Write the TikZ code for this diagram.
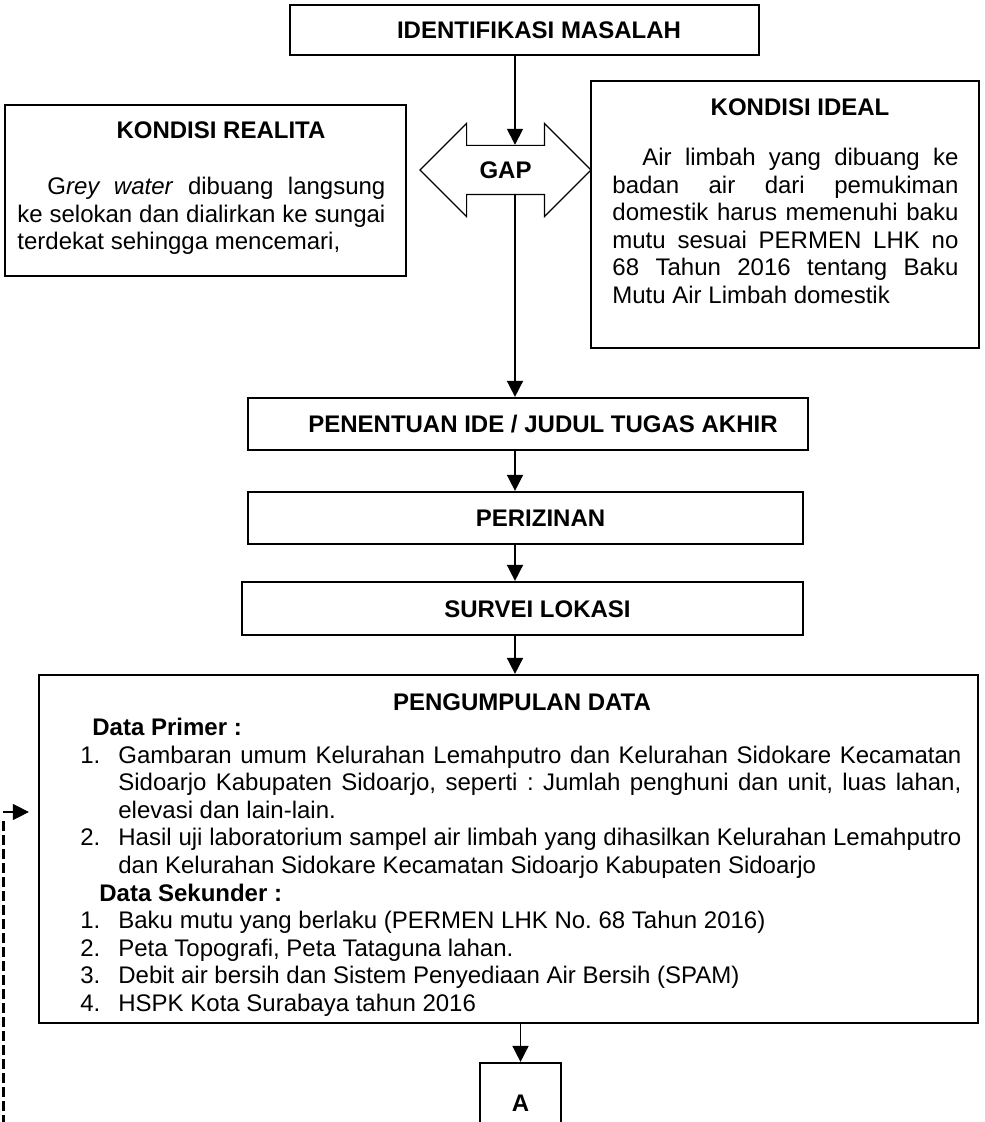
\documentclass[tikz,border=0pt]{standalone}
\usepackage{fontspec}
\setmainfont{Liberation Sans}
\usetikzlibrary{arrows.meta, shapes.arrows}

\begin{document}
\begin{tikzpicture}[
    x=0.5pt, y=-0.5pt,
    stage/.style={draw, line width=1.1pt, font=\fontsize{12}{13.8}\selectfont\bfseries, text height=8.6pt, text depth=0pt, inner sep=0pt},
    panel/.style={draw, line width=0.6pt, inner sep=0pt},
    head/.style={font=\fontsize{12}{13.8}\selectfont\bfseries, inner sep=0pt, anchor=base},
    para/.style={font=\fontsize{12}{13.8}\selectfont\frenchspacing, inner sep=0pt, anchor=north west, align=justify},
    gaparrow/.style={double arrow, draw, line width=0.6pt, font=\fontsize{12}{13.8}\selectfont\bfseries, text height=9pt, text depth=0pt, inner xsep=0pt, inner ysep=7.5pt, minimum height=85.5pt, double arrow head extend=11pt, double arrow tip angle=90},
    arr/.style={-{Triangle[length=8pt, width=8pt]}, line width=0.8pt},
    loopdash/.style={line width=1.5pt, dash pattern=on 5pt off 2pt}
]
\useasboundingbox (0,0) rectangle (984,1122);
\coordinate (spine) at (515,0);

\node[stage, minimum width=234.5pt, minimum height=25pt] (ident) at (524.5,30) {\hspace*{14.5pt}IDENTIFIKASI MASALAH};
\node[gaparrow] (gap) at (505.5,170) {GAP};

% kondisi realita / ideal
\node[panel, minimum width=200.5pt, minimum height=85.5pt] (realita) at (205.5,190.5) {};
\node[head] (realitaT) at (221,138.6) {KONDISI REALITA};
\node[para, text width=184pt] (realitaB) at (17,174.7) {\noindent\strut\hspace*{15pt}G\textit{rey water} dibuang langsung\linebreak ke selokan dan dialirkan ke sungai\linebreak terdekat sehingga mencemari,};

\node[panel, minimum width=194pt, minimum height=133.5pt] (ideal) at (785,214.5) {};
\node[head] (idealT) at (800,115.6) {KONDISI IDEAL};
\node[para, text width=173pt] (idealB) at (612,145.7) {\noindent\strut\hspace*{15pt}Air limbah yang dibuang ke\linebreak badan air dari pemukiman\linebreak domestik harus memenuhi baku\linebreak mutu sesuai PERMEN LHK no\linebreak 68 Tahun 2016 tentang Baku\linebreak Mutu Air Limbah domestik};

\node[stage, minimum width=280pt, minimum height=26pt] (judul) at (528,424) {\hspace*{15pt}PENENTUAN IDE / JUDUL TUGAS AKHIR};
\node[stage, minimum width=277.5pt, minimum height=26pt] (izin) at (525.5,518) {\hspace*{15pt}PERIZINAN};
\node[stage, minimum width=280.5pt, minimum height=26.5pt] (survei) at (522.5,608.5) {\hspace*{15pt}SURVEI LOKASI};

% pengumpulan data
\node[panel, line width=1.1pt, minimum width=469.5pt, minimum height=174pt] (data) at (508.5,849) {};
\node[head] (dataT) at (522,710.6) {PENGUMPULAN DATA};
\node[para, text width=440.5pt] (dataB) at (80,715.7) {\noindent\strut\hspace*{6pt}\textbf{Data Primer :}\par
\hangindent=19pt\hangafter=1\noindent\makebox[19pt][l]{1.}Gambaran umum Kelurahan Lemahputro dan Kelurahan Sidokare Kecamatan\linebreak Sidoarjo Kabupaten Sidoarjo, seperti : Jumlah penghuni dan unit, luas lahan,\linebreak elevasi dan lain-lain.\par
\hangindent=19pt\hangafter=1\noindent\makebox[19pt][l]{2.}Hasil uji laboratorium sampel air limbah yang dihasilkan Kelurahan Lemahputro\linebreak dan Kelurahan Sidokare Kecamatan Sidoarjo Kabupaten Sidoarjo\par
\noindent\hspace*{9.5pt}\textbf{Data Sekunder :}\par
\noindent\makebox[19pt][l]{1.}Baku mutu yang berlaku (PERMEN LHK No. 68 Tahun 2016)\par
\noindent\makebox[19pt][l]{2.}Peta Topografi, Peta Tataguna lahan.\par
\noindent\makebox[19pt][l]{3.}Debit air bersih dan Sistem Penyediaan Air Bersih (SPAM)\par
\noindent\makebox[19pt][l]{4.}HSPK Kota Surabaya tahun 2016};

\node[stage, minimum width=40.5pt, minimum height=40pt] (boxA) at (520.5,1103) {A};

\draw[arr] (ident.south -| spine) -- (gap.north -| spine);
\draw[arr] (gap.south -| spine) -- (judul.north -| spine);
\draw[arr] (judul.south -| spine) -- (izin.north -| spine);
\draw[arr] (izin.south -| spine) -- (survei.north -| spine);
\draw[arr] (survei.south -| spine) -- (data.north -| spine);
\draw[arr] (data.south -| boxA) -- (boxA);

% garis balik putus-putus
\coordinate (back) at (3,1125);
\draw[loopdash] (back) -- ([yshift=15.5pt]data.west -| back);
\draw[arr, line width=0.6pt, shorten >=4.5pt] ([yshift=18.5pt]data.west -| back) -- ([yshift=18.5pt]data.west);
\end{tikzpicture}
\end{document}
